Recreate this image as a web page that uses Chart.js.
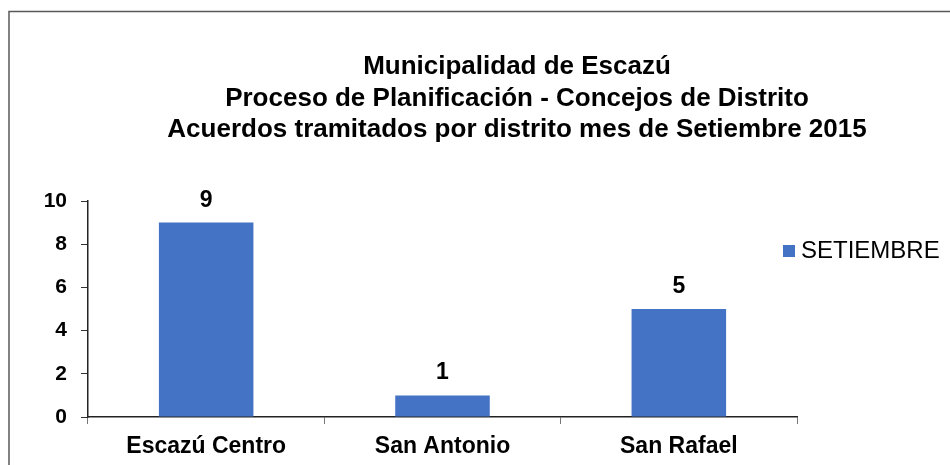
<!DOCTYPE html>
<html>
<head>
<meta charset="utf-8">
<script src="https://cdn.jsdelivr.net/npm/chart.js@4"></script>
<style>
  html, body { margin: 0; padding: 0; background: #fff; }
  #wrap { width: 950px; height: 465px; position: relative; }
</style>
</head>
<body>
<div id="wrap"><canvas id="chart"></canvas></div>
<script>
const titleLines = [
  "Municipalidad de Escazú",
  "Proceso de Planificación - Concejos de Distrito",
  "Acuerdos tramitados por distrito mes de Setiembre 2015"
];
const districts = ["Escazú Centro", "San Antonio", "San Rafael"];
const seriesName = "SETIEMBRE";
const acuerdos = [9, 1, 5];
const yTicks = [0, 2, 4, 6, 8, 10];

const FONT = "'Liberation Sans', Arial, sans-serif";
const BAR_COLOR = "#4472C4";

// frame + title + legend + value labels drawn on the canvas
const decorations = {
  id: 'decorations',
  beforeDraw(chart) {
    const ctx = chart.ctx;
    ctx.save();
    ctx.fillStyle = '#fff';
    ctx.fillRect(0, 0, chart.width, chart.height);
    ctx.strokeStyle = '#595959';
    ctx.lineWidth = 1.5;
    ctx.beginPath();
    ctx.moveTo(9, chart.height);
    ctx.lineTo(9, 11.5);
    ctx.lineTo(chart.width, 11.5);
    ctx.stroke();
    ctx.restore();
  },
  afterDraw(chart) {
    const ctx = chart.ctx;
    ctx.save();
    ctx.fillStyle = '#000';
    ctx.textAlign = 'center';
    ctx.textBaseline = 'alphabetic';
    ctx.font = `bold 26px ${FONT}`;
    titleLines.forEach((line, i) => ctx.fillText(line, 517, 74 + i * 31.7));

    // legend
    const ds = chart.data.datasets[0];
    ctx.fillStyle = ds.backgroundColor;
    ctx.fillRect(783, 245, 12, 12);
    ctx.fillStyle = '#000';
    ctx.textAlign = 'left';
    ctx.textBaseline = 'middle';
    ctx.font = `24px ${FONT}`;
    ctx.fillText(ds.label, 801, 251);

    // value labels
    const meta = chart.getDatasetMeta(0);
    ctx.textAlign = 'center';
    ctx.textBaseline = 'alphabetic';
    ctx.font = `bold 23px ${FONT}`;
    meta.data.forEach((bar, i) => {
      ctx.fillText(String(ds.data[i]), bar.x, bar.y - 16);
    });
    ctx.restore();
  }
};

new Chart(document.getElementById('chart'), {
  type: 'bar',
  data: {
    labels: districts,
    datasets: [{
      label: seriesName,
      data: acuerdos,
      backgroundColor: BAR_COLOR,
      barPercentage: 0.4,
      categoryPercentage: 1.0
    }]
  },
  options: {
    responsive: true,
    maintainAspectRatio: false,
    animation: false,
    layout: { padding: { top: 201, right: 153, left: 0, bottom: 0 } },
    plugins: {
      legend: { display: false },
      title: { display: false },
      tooltip: { enabled: false }
    },
    scales: {
      x: {
        grid: { display: true, drawOnChartArea: false, offset: true, tickLength: 7, color: '#777' },
        border: { color: '#222', width: 1.5 },
        ticks: { color: '#000', font: { family: FONT, size: 23, weight: 'bold' }, padding: 9, maxRotation: 0 },
        afterFit(scale) { scale.height = 48; }
      },
      y: {
        min: 0,
        max: 10,
        afterBuildTicks(scale) { scale.ticks = yTicks.map(v => ({ value: v })); },
        grid: { display: true, drawOnChartArea: false, tickLength: 7, color: '#333' },
        border: { color: '#222', width: 1.5 },
        ticks: { color: '#000', font: { family: FONT, size: 21, weight: 'bold' }, padding: 14 },
        afterFit(scale) { scale.width = 88; }
      }
    }
  },
  plugins: [decorations]
});
</script>
</body>
</html>
